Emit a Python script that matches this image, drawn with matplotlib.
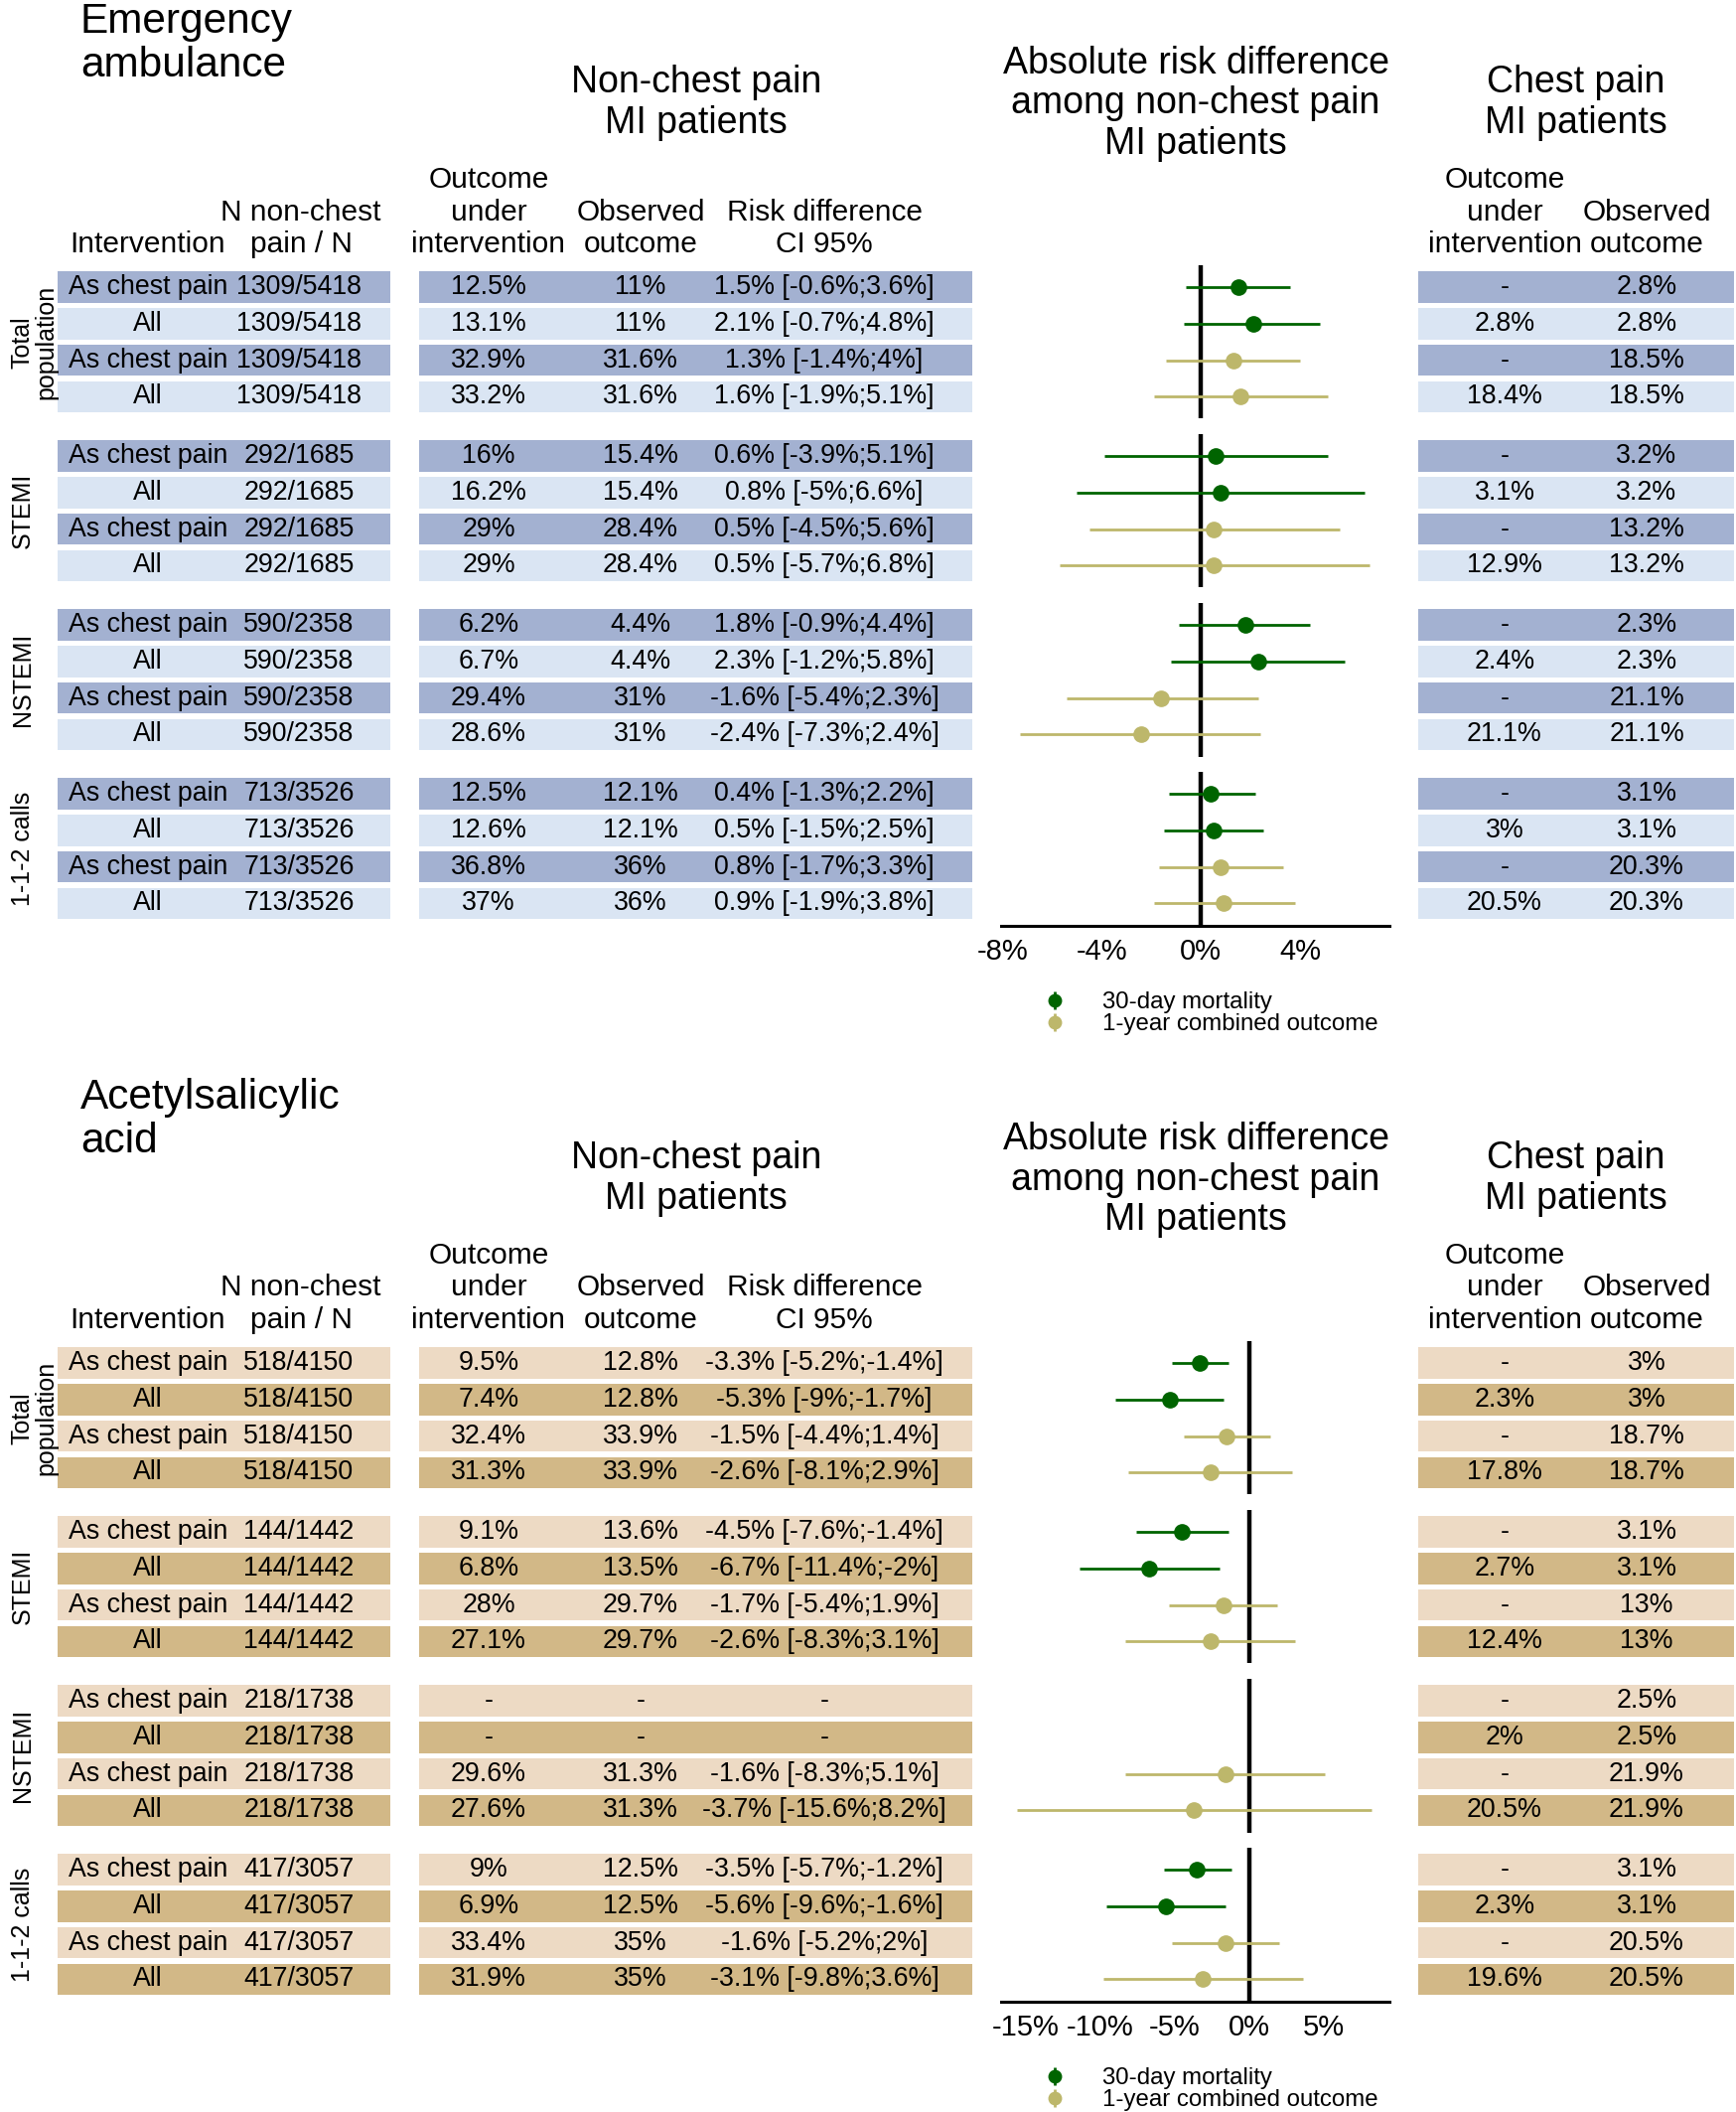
import numpy as np
import matplotlib
matplotlib.use("Agg")
import matplotlib.pyplot as plt
from matplotlib.lines import Line2D
from matplotlib.ticker import FuncFormatter

plt.rcParams['font.family'] = ['Liberation Sans', 'DejaVu Sans']

nan = np.nan

# ---- data ----
groups = ['Total\npopulation', 'STEMI', 'NSTEMI', '1-1-2 calls']
interventions = ['As chest pain', 'All', 'As chest pain', 'All']
outcome_names = ['30-day mortality', '1-year combined outcome']

# Emergency ambulance
amb_n = ['1309/5418', '292/1685', '590/2358', '713/3526']
amb_under = [12.5, 13.1, 32.9, 33.2, 16, 16.2, 29, 29, 6.2, 6.7, 29.4, 28.6, 12.5, 12.6, 36.8, 37]
amb_obs = [11, 11, 31.6, 31.6, 15.4, 15.4, 28.4, 28.4, 4.4, 4.4, 31, 31, 12.1, 12.1, 36, 36]
amb_rd = [1.5, 2.1, 1.3, 1.6, 0.6, 0.8, 0.5, 0.5, 1.8, 2.3, -1.6, -2.4, 0.4, 0.5, 0.8, 0.9]
amb_lo = [-0.6, -0.7, -1.4, -1.9, -3.9, -5, -4.5, -5.7, -0.9, -1.2, -5.4, -7.3, -1.3, -1.5, -1.7, -1.9]
amb_hi = [3.6, 4.8, 4, 5.1, 5.1, 6.6, 5.6, 6.8, 4.4, 5.8, 2.3, 2.4, 2.2, 2.5, 3.3, 3.8]
amb_cp_under = [nan, 2.8, nan, 18.4, nan, 3.1, nan, 12.9, nan, 2.4, nan, 21.1, nan, 3, nan, 20.5]
amb_cp_obs = [2.8, 2.8, 18.5, 18.5, 3.2, 3.2, 13.2, 13.2, 2.3, 2.3, 21.1, 21.1, 3.1, 3.1, 20.3, 20.3]
amb_ticks = [-8, -4, 0, 4]

# Acetylsalicylic acid
asa_n = ['518/4150', '144/1442', '218/1738', '417/3057']
asa_under = [9.5, 7.4, 32.4, 31.3, 9.1, 6.8, 28, 27.1, nan, nan, 29.6, 27.6, 9, 6.9, 33.4, 31.9]
asa_obs = [12.8, 12.8, 33.9, 33.9, 13.6, 13.5, 29.7, 29.7, nan, nan, 31.3, 31.3, 12.5, 12.5, 35, 35]
asa_rd = [-3.3, -5.3, -1.5, -2.6, -4.5, -6.7, -1.7, -2.6, nan, nan, -1.6, -3.7, -3.5, -5.6, -1.6, -3.1]
asa_lo = [-5.2, -9, -4.4, -8.1, -7.6, -11.4, -5.4, -8.3, nan, nan, -8.3, -15.6, -5.7, -9.6, -5.2, -9.8]
asa_hi = [-1.4, -1.7, 1.4, 2.9, -1.4, -2, 1.9, 3.1, nan, nan, 5.1, 8.2, -1.2, -1.6, 2, 3.6]
asa_cp_under = [nan, 2.3, nan, 17.8, nan, 2.7, nan, 12.4, nan, 2, nan, 20.5, nan, 2.3, nan, 19.6]
asa_cp_obs = [3, 3, 18.7, 18.7, 3.1, 3.1, 13, 13, 2.5, 2.5, 21.9, 21.9, 3.1, 3.1, 20.5, 20.5]
asa_ticks = [-15, -10, -5, 0, 5]

# ---- layout (pixels) ----
W, H = 1748, 2126
PITCH = 36.8          # px per row
GSTEP = 4.62          # rows per group
ROW0 = 289            # y of first row, top panel
OFFSET = 1083         # vertical shift of second panel
GREEN = '#006400'
KHAKI = '#BDB76B'
BLUE = ('#A3B1D1', '#DAE5F3')
TAN = ('#EDDAC4', '#D2B887')


def fx(x):
    return x / W


def fy(y):
    return 1 - y / H


def pct(v):
    return '-' if np.isnan(v) else f'{v:g}%'


fig = plt.figure(figsize=(W / 100, H / 100), dpi=100)


def stack(x, y_last, lines, step, size, ha='center'):
    for k, s in enumerate(reversed(lines)):
        fig.text(fx(x), fy(y_last - k * step), s, ha=ha, va='center', fontsize=size)


def panel(dy, title, ns, under, obs, rd, lo, hi, cp_under, cp_obs, colors, xlim, ticks):
    top = ROW0 - 0.6 * PITCH + dy
    ymax = 3 * GSTEP + 3.6
    bot = ROW0 + ymax * PITCH + dy
    rows = np.array([g * GSTEP + j for g in range(4) for j in range(4)])

    # headers
    stack(81, 66 + dy, title, 44, 30.5, ha='left')
    stack(701, 124 + dy, ['Non-chest pain', 'MI patients'], 41, 27)
    stack(1204, 145 + dy, ['Absolute risk difference', 'among non-chest pain', 'MI patients'], 40.5, 27)
    stack(1587, 124 + dy, ['Chest pain', 'MI patients'], 41, 27)
    hs = 21.5
    stack(149, 246 + dy, ['Intervention'], 32.5, hs)
    stack(303, 246 + dy, ['N non-chest', 'pain / N'], 32.5, hs)
    stack(492, 246 + dy, ['Outcome', 'under', 'intervention'], 32.5, hs)
    stack(645, 246 + dy, ['Observed', 'outcome'], 32.5, hs)
    stack(830, 246 + dy, ['Risk difference', 'CI 95%'], 32.5, hs)
    stack(1515, 246 + dy, ['Outcome', 'under', 'intervention'], 32.5, hs)
    stack(1658, 246 + dy, ['Observed', 'outcome'], 32.5, hs)

    # table axes
    tab = fig.add_axes([0, fy(bot), 1, (bot - top) / H])
    tab.set_xlim(0, W)
    tab.set_ylim(ymax, -0.6)
    tab.axis('off')
    fills = [colors[j % 2] for g in range(4) for j in range(4)]
    for left, width in [(58, 335), (422, 557), (1428, 318)]:
        tab.barh(rows, width, left=left, height=0.86, color=fills, edgecolor='none')
    fs = 19.3
    for i, y in enumerate(rows):
        g, j = divmod(i, 4)
        tab.text(149, y, interventions[j], ha='center', va='center', fontsize=fs)
        tab.text(301, y, ns[g], ha='center', va='center', fontsize=fs)
        tab.text(492, y, pct(under[i]), ha='center', va='center', fontsize=fs)
        tab.text(645, y, pct(obs[i]), ha='center', va='center', fontsize=fs)
        if np.isnan(rd[i]):
            s = '-'
        else:
            s = f'{rd[i]:g}% [{lo[i]:g}%;{hi[i]:g}%]'
        tab.text(830, y, s, ha='center', va='center', fontsize=fs)
        tab.text(1515, y, pct(cp_under[i]), ha='center', va='center', fontsize=fs)
        tab.text(1658, y, pct(cp_obs[i]), ha='center', va='center', fontsize=fs)
    for g, name in enumerate(groups):
        xg = 34 if '\n' in name else 23
        tab.text(xg, g * GSTEP + 1.5, name, rotation=90, ha='center', va='center',
                 fontsize=18, linespacing=1.0)

    # forest axes
    ax = fig.add_axes([fx(1008), fy(bot), 391 / W, (bot - top) / H])
    ax.set_facecolor('none')
    ax.set_xlim(*xlim)
    ax.set_ylim(ymax, -0.6)
    for g in range(4):
        ax.plot([0, 0], [g * GSTEP - 0.6, g * GSTEP + 3.6], color='black', lw=3.2,
                solid_capstyle='butt', zorder=1)
    rd = np.array(rd)
    lo = np.array(lo)
    hi = np.array(hi)
    for k, c in enumerate([GREEN, KHAKI]):
        idx = np.array([i for i in range(16) if (i % 4) // 2 == k and not np.isnan(rd[i])])
        ax.errorbar(rd[idx], rows[idx], xerr=[rd[idx] - lo[idx], hi[idx] - rd[idx]],
                    fmt='o', color=c, ms=11, elinewidth=2.0, capsize=0, zorder=2)
    for s in ['left', 'top', 'right']:
        ax.spines[s].set_visible(False)
    ax.spines['bottom'].set_linewidth(2.2)
    ax.set_yticks([])
    ax.set_xticks(ticks)
    ax.xaxis.set_major_formatter(FuncFormatter(lambda v, p: f'{v:g}%'))
    ax.tick_params(axis='x', length=0, pad=9, labelsize=21)

    handles = [(Line2D([], [], marker='|', color=c, ms=13, mew=2, ls=''),
                Line2D([], [], marker='o', color=c, ms=9, ls='')) for c in [GREEN, KHAKI]]
    fig.legend(handles, outcome_names, loc='upper left',
               bbox_to_anchor=(fx(1050), fy(998 + dy)), frameon=False, fontsize=17.3,
               borderpad=0, borderaxespad=0, handlelength=1.0, handletextpad=1.5,
               labelspacing=0.0)


panel(0, ['Emergency', 'ambulance'], amb_n, amb_under, amb_obs, amb_rd, amb_lo, amb_hi,
      amb_cp_under, amb_cp_obs, BLUE, (-8.05, 7.6), amb_ticks)
panel(OFFSET, ['Acetylsalicylic', 'acid'], asa_n, asa_under, asa_obs, asa_rd, asa_lo, asa_hi,
      asa_cp_under, asa_cp_obs, TAN, (-16.65, 9.4), asa_ticks)

fig.savefig('out.png', dpi=100, facecolor='white')
